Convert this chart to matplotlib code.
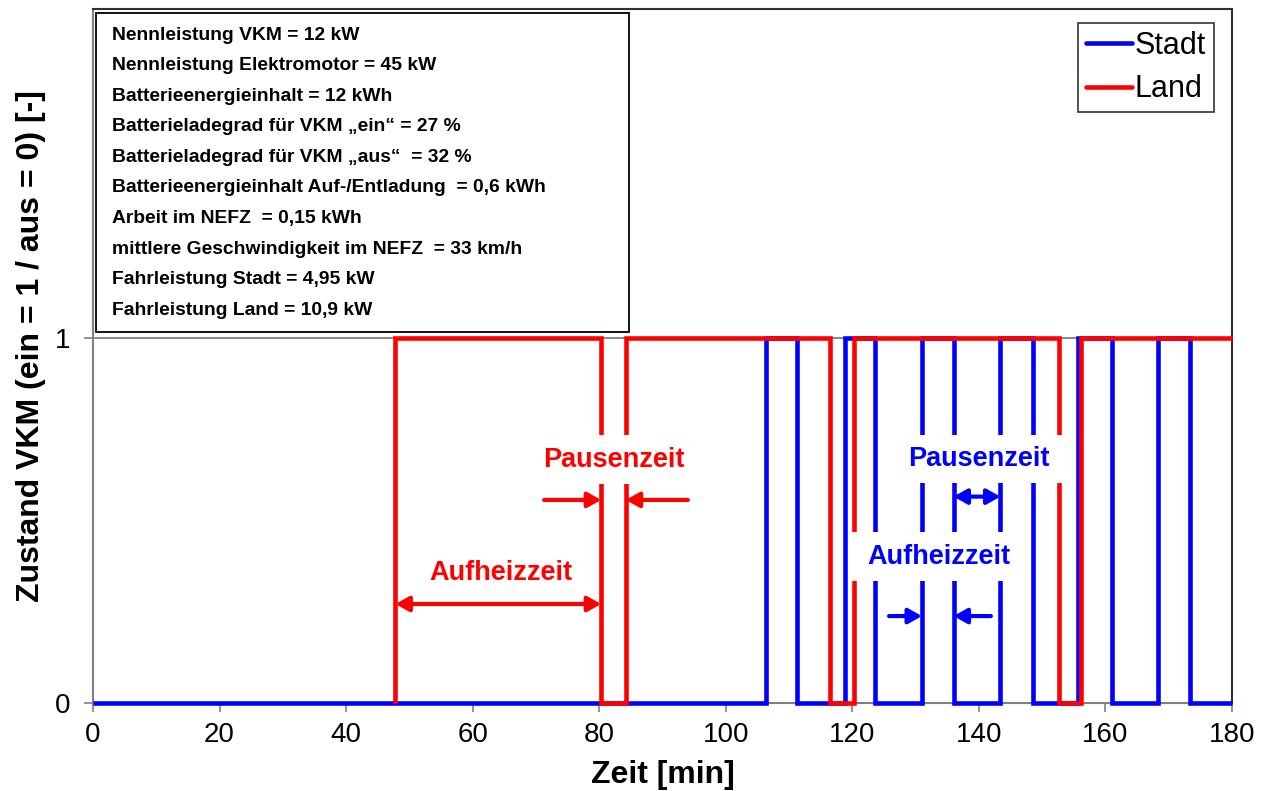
import matplotlib
matplotlib.use("Agg")
import matplotlib.pyplot as plt
from matplotlib.patches import Rectangle
from matplotlib.lines import Line2D

plt.rcParams['font.family'] = ['Liberation Sans', 'DejaVu Sans']

# --- data -------------------------------------------------------------
# switching times [min] and engine state after each switch (steps-post)
stadt_times = [0, 106.4, 111.2, 118.8, 123.6, 131.0, 136.0, 143.4, 148.5,
               155.6, 161.0, 168.3, 173.4, 180]
stadt_state = [0, 1, 0, 1, 0, 1, 0, 1, 0, 1, 0, 1, 0, 0]

land_times = [47.8, 47.8, 80.3, 84.2, 116.4, 120.2, 152.6, 156.2, 180]
land_state = [0, 1, 0, 1, 0, 1, 0, 1, 1]

x_ticks = [0, 20, 40, 60, 80, 100, 120, 140, 160, 180]
y_ticks = [0, 1]

info_lines = [
    "Nennleistung VKM = 12 kW",
    "Nennleistung Elektromotor = 45 kW",
    "Batterieenergieinhalt = 12 kWh",
    "Batterieladegrad für VKM „ein“ = 27 %",
    "Batterieladegrad für VKM „aus“  = 32 %",
    "Batterieenergieinhalt Auf-/Entladung  = 0,6 kWh",
    "Arbeit im NEFZ  = 0,15 kWh",
    "mittlere Geschwindigkeit im NEFZ  = 33 km/h",
    "Fahrleistung Stadt = 4,95 kW",
    "Fahrleistung Land = 10,9 kW",
]

BLUE = '#0000FF'
RED = '#FF0000'
GRAY = '#808080'

# --- figure -----------------------------------------------------------
W, H = 1265, 791
fig = plt.figure(figsize=(W / 100, H / 100), dpi=100)
ax = fig.add_axes([93 / W, 88 / H, 1139 / W, 694 / H])
ax.set_xlim(0, 180)
ax.set_ylim(0, 1.9)

ax.plot(stadt_times, stadt_state, drawstyle='steps-post', color=BLUE,
        lw=3.3, solid_joinstyle='miter', solid_capstyle='butt',
        clip_on=False, zorder=3)
ax.plot(land_times, land_state, drawstyle='steps-post', color=RED,
        lw=3.3, solid_joinstyle='miter', solid_capstyle='butt',
        clip_on=False, zorder=3.1)

ax.set_xticks(x_ticks)
ax.set_yticks(y_ticks)
ax.yaxis.grid(True, color=GRAY, lw=1.3, zorder=1)
ax.set_axisbelow(True)
ax.tick_params(direction='out', length=6.5, width=1.2, color=GRAY,
               labelsize=20)
ax.tick_params(axis='x', pad=7)
ax.tick_params(axis='y', pad=10)
for side in ('left', 'bottom'):
    ax.spines[side].set_color(GRAY)
    ax.spines[side].set_linewidth(1.5)
    ax.spines[side].set_zorder(2)
for side in ('top', 'right'):
    ax.spines[side].set_color('#303030')
    ax.spines[side].set_linewidth(1.5)

ax.set_xlabel("Zeit [min]", fontsize=23, fontweight='bold', labelpad=9)
ax.set_ylabel("Zustand VKM (ein = 1 / aus = 0) [-]", fontsize=23,
              fontweight='bold')
ax.yaxis.set_label_coords(-0.041, 0.514)

# --- parameter box ----------------------------------------------------
box = Rectangle((0.0026, 0.5346), 0.468, 0.4596, transform=ax.transAxes,
                facecolor='white', edgecolor='black', lw=1.3, zorder=5)
ax.add_patch(box)
for i, line in enumerate(info_lines):
    ypix = 35 + 30.6 * i
    ax.text(0.0167, (703 - ypix) / 694, line, transform=ax.transAxes,
            fontsize=13.9, fontweight='bold', va='center', ha='left',
            zorder=6)

# --- legend -----------------------------------------------------------
handles = [Line2D([], [], color=BLUE, lw=3.3, solid_capstyle='round'),
           Line2D([], [], color=RED, lw=3.3, solid_capstyle='round')]
leg = ax.legend(handles, ["Stadt", "Land"], loc='upper right',
                bbox_to_anchor=(0.984, 0.980), borderaxespad=0,
                fontsize=22, frameon=True, fancybox=False,
                handlelength=1.5, handletextpad=0.1, borderpad=0.25,
                labelspacing=0.45)
leg.get_frame().set_edgecolor('black')
leg.get_frame().set_linewidth(1.2)
leg.set_zorder(7)

# --- annotations ------------------------------------------------------
MASK_HW, MASK_HH = 14.2, 0.067


def label(x, y, text, color):
    ax.add_patch(Rectangle((x - MASK_HW, y - MASK_HH), 2 * MASK_HW,
                           2 * MASK_HH, facecolor='white', edgecolor='none',
                           zorder=4))
    ax.text(x, y, text, color=color, fontsize=19.5, fontweight='bold',
            ha='center', va='center', zorder=6)


def arrow(x_tail, x_head, y, color, both=False):
    style = ('<|-|>' if both else '-|>') + ',head_length=0.8,head_width=0.45'
    ax.annotate('', xy=(x_head, y), xytext=(x_tail, y),
                arrowprops=dict(arrowstyle=style, color=color, lw=3,
                                shrinkA=0, shrinkB=0, mutation_scale=10),
                zorder=6)


# Land: heating period and pause
label(64.5, 0.356, "Aufheizzeit", RED)
arrow(land_times[1], land_times[2], 0.271, RED, both=True)
label(82.3, 0.666, "Pausenzeit", RED)
arrow(71.3, land_times[2], 0.556, RED)
arrow(94.0, land_times[3], 0.556, RED)

# Stadt: heating period and pause
label(133.6, 0.400, "Aufheizzeit", BLUE)
arrow(125.8, stadt_times[5], 0.238, BLUE)
arrow(141.9, stadt_times[6], 0.238, BLUE)
label(140.0, 0.668, "Pausenzeit", BLUE)
arrow(stadt_times[6], stadt_times[7], 0.565, BLUE, both=True)

fig.savefig("out.png", dpi=100)
